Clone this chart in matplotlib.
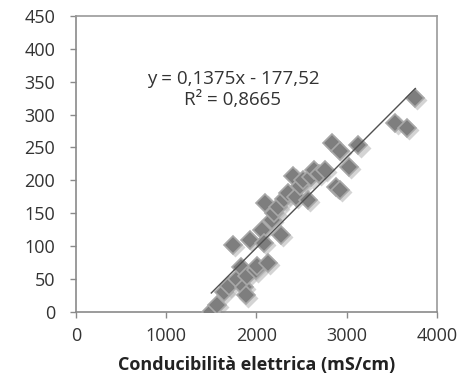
import matplotlib.pyplot as plt
import matplotlib.transforms as mtransforms
import numpy as np

plt.rcParams['font.family'] = ['Open Sans', 'DejaVu Sans']

# dati
cond = [1500, 1560, 1640, 1700, 1735, 1790, 1830, 1860, 1880, 1900, 1930, 1990,
        2010, 2060, 2080, 2100, 2130, 2170, 2200, 2240, 2270, 2300, 2350, 2410,
        2440, 2480, 2520, 2570, 2600, 2640, 2690, 2760, 2840, 2880, 2920, 2930,
        3020, 3130, 3540, 3665, 3760]
vals = [0, 10, 30, 40, 102, 50, 68, 38, 25, 55, 109, 63,
        70, 125, 105, 165, 74, 140, 150, 160, 117, 172, 180, 206,
        175, 192, 200, 170, 205, 216, 210, 216, 257, 190, 245, 186,
        220, 253, 287, 280, 325]
slope = 0.1375
intercept = -177.52
eq_text = "y = 0,1375x - 177,52\nR² = 0,8665"
x_label = "Conducibilità elettrica (mS/cm)"
x_ticks = [0, 1000, 2000, 3000, 4000]
y_ticks = list(range(0, 451, 50))

fig = plt.figure(figsize=(4.74, 3.86), dpi=100)
ax = fig.add_axes([0.160, 0.192, 0.762, 0.767])

# ombra dei marker
shadow = mtransforms.offset_copy(ax.transData, fig=fig, x=1.5, y=-1.5, units='points')
ax.plot(cond, vals, 'D', ms=10.5, color='#b8b8b8', mec='none', alpha=0.6,
        transform=shadow, zorder=2)
ax.plot(cond, vals, 'D', ms=9.0, color='#7e7e7e', mec='#a8a8a8', mew=1.2, zorder=3)

# linea di tendenza
xl = np.array([min(cond), max(cond)])
ax.plot(xl, slope * xl + intercept, color='#505050', lw=1.0, zorder=4)

ax.text(1740, 338, eq_text, ha='center', va='center', fontsize=13.5,
        color='#333333', linespacing=1.15)

ax.set_xlim(0, 4000)
ax.set_ylim(0, 450)
ax.set_xticks(x_ticks)
ax.set_yticks(y_ticks)
ax.tick_params(axis='both', labelsize=13, colors='#8a8a8a', labelcolor='#333333',
               length=4, width=1, direction='out')
ax.tick_params(axis='x', pad=7)
ax.tick_params(axis='y', pad=11)
for side in ['left', 'bottom']:
    ax.spines[side].set_color('#8a8a8a')
    ax.spines[side].set_linewidth(1.2)
for side in ['top', 'right']:
    ax.spines[side].set_color('#9a9a9a')
    ax.spines[side].set_linewidth(1.2)

ax.set_xlabel(x_label, fontsize=13, fontweight='bold', color='#222222', labelpad=8)

fig.savefig('out.png', dpi=100, facecolor='white')
